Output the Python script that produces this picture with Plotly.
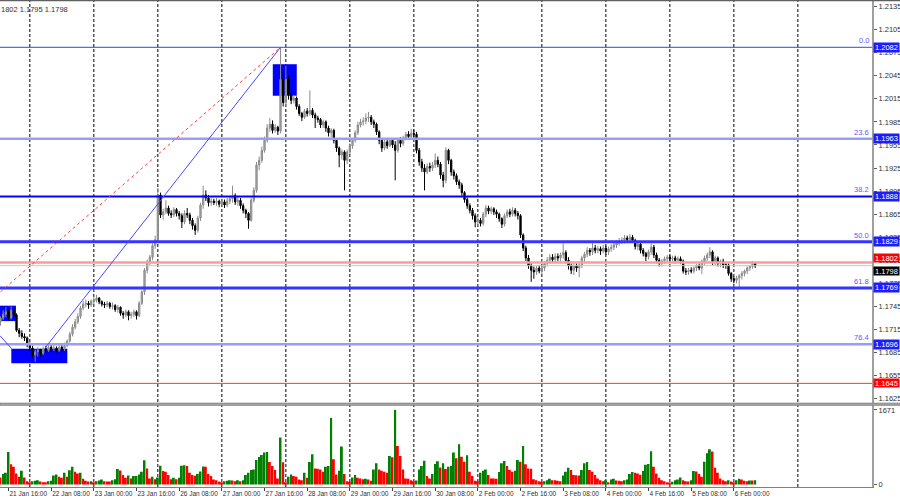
import numpy as np
import pandas as pd
import plotly.graph_objects as go

# EURUSD H1, 21 Jan 13:00 .. 6 Feb 08:00 (weekends skipped)
hours = pd.date_range("2026-01-21 13:00", "2026-02-06 08:00", freq="h")
times = hours[hours.dayofweek < 5]

first_open = 1.1725

closes = [
    1.1730, 1.1735, 1.1738, 1.1730, 1.1740, 1.1734, 1.1714, 1.1710, 1.1706, 1.1704,
    1.1695, 1.1691, 1.1682, 1.1686, 1.1688, 1.1684, 1.1690, 1.1688, 1.1692, 1.1690,
    1.1691, 1.1688, 1.1692, 1.1690, 1.1694, 1.1700, 1.1709, 1.1718, 1.1725, 1.1732,
    1.1743, 1.1748, 1.1749, 1.1747, 1.1752, 1.1753, 1.1756, 1.1751, 1.1748, 1.1747,
    1.1749, 1.1745, 1.1746, 1.1741, 1.1744, 1.1736, 1.1734, 1.1738, 1.1733, 1.1735,
    1.1738, 1.1733, 1.1749, 1.1764, 1.1792, 1.1803, 1.1809, 1.1824, 1.1832, 1.1890,
    1.1864, 1.1868, 1.1873, 1.1866, 1.1864, 1.1871, 1.1866, 1.1863, 1.1855, 1.1866,
    1.1864, 1.1857, 1.1850, 1.1844, 1.1860, 1.1877, 1.1890, 1.1886, 1.1880, 1.1882,
    1.1880, 1.1882, 1.1878, 1.1881, 1.1877, 1.1882, 1.1885, 1.1889, 1.1881, 1.1883,
    1.1876, 1.1870, 1.1866, 1.1857, 1.1883, 1.1896, 1.1929, 1.1935, 1.1948, 1.1961,
    1.1977, 1.1982, 1.1974, 1.1978, 1.1973, 1.2040, 1.2010, 1.2040, 1.2020, 1.2013,
    1.2016, 1.2005, 1.1996, 1.1991, 1.1999, 1.1996, 1.2000, 1.1994, 1.1990, 1.1988,
    1.1981, 1.1985, 1.1977, 1.1971, 1.1974, 1.1961, 1.1951, 1.1942, 1.1946, 1.1935,
    1.1946, 1.1954, 1.1961, 1.1971, 1.1981, 1.1985, 1.1986, 1.1990, 1.1991, 1.1985,
    1.1982, 1.1972, 1.1961, 1.1951, 1.1959, 1.1954, 1.1961, 1.1955, 1.1948, 1.1961,
    1.1957, 1.1964, 1.1969, 1.1966, 1.1970, 1.1969, 1.1948, 1.1933, 1.1925, 1.1920,
    1.1927, 1.1925, 1.1929, 1.1935, 1.1930, 1.1916, 1.1909, 1.1948, 1.1935, 1.1920,
    1.1915, 1.1907, 1.1903, 1.1893, 1.1884, 1.1876, 1.1870, 1.1863, 1.1855, 1.1857,
    1.1853, 1.1865, 1.1873, 1.1869, 1.1872, 1.1868, 1.1865, 1.1859, 1.1852, 1.1863,
    1.1868, 1.1865, 1.1870, 1.1866, 1.1863, 1.1838, 1.1821, 1.1808, 1.1798, 1.1792,
    1.1790, 1.1795, 1.1791, 1.1795, 1.1801, 1.1805, 1.1809, 1.1806, 1.1810, 1.1808,
    1.1812, 1.1815, 1.1805, 1.1798, 1.1792, 1.1798, 1.1795, 1.1799, 1.1808, 1.1813,
    1.1818, 1.1816, 1.1821, 1.1818, 1.1820, 1.1817, 1.1821, 1.1816, 1.1820, 1.1822,
    1.1825, 1.1827, 1.1830, 1.1831, 1.1834, 1.1832, 1.1835, 1.1831, 1.1823, 1.1826,
    1.1818, 1.1814, 1.1810, 1.1816, 1.1822, 1.1812, 1.1805, 1.1801, 1.1804, 1.1807,
    1.1809, 1.1807, 1.1808, 1.1805, 1.1807, 1.1804, 1.1791, 1.1790, 1.1792, 1.1791,
    1.1795, 1.1798, 1.1795, 1.1803, 1.1808, 1.1812, 1.1816, 1.1803, 1.1808, 1.1801,
    1.1804, 1.1799, 1.1799, 1.1788, 1.1781, 1.1779, 1.1782, 1.1785, 1.1788, 1.1791,
    1.1795, 1.1797, 1.1801, 1.1798,
]

highs = [
    1.1732, 1.1740, 1.1744, 1.1741, 1.1745, 1.1743, 1.1736, 1.1717, 1.1714, 1.1710,
    1.1706, 1.1698, 1.1694, 1.1689, 1.1692, 1.1690, 1.1693, 1.1694, 1.1697, 1.1695,
    1.1696, 1.1693, 1.1695, 1.1697, 1.1698, 1.1702, 1.1712, 1.1722, 1.1729, 1.1736,
    1.1746, 1.1752, 1.1754, 1.1752, 1.1754, 1.1757, 1.1760, 1.1757, 1.1753, 1.1751,
    1.1752, 1.1751, 1.1750, 1.1748, 1.1747, 1.1745, 1.1739, 1.1741, 1.1740, 1.1738,
    1.1741, 1.1740, 1.1752, 1.1766, 1.1795, 1.1806, 1.1812, 1.1827, 1.1837, 1.1899,
    1.1893, 1.1872, 1.1883, 1.1876, 1.1870, 1.1874, 1.1873, 1.1869, 1.1866, 1.1870,
    1.1873, 1.1867, 1.1860, 1.1853, 1.1863, 1.1880, 1.1902, 1.1896, 1.1890, 1.1886,
    1.1885, 1.1886, 1.1884, 1.1885, 1.1884, 1.1886, 1.1888, 1.1902, 1.1892, 1.1887,
    1.1886, 1.1879, 1.1872, 1.1868, 1.1886, 1.1900, 1.1933, 1.1940, 1.1953, 1.1966,
    1.1982, 1.1990, 1.1987, 1.1982, 1.1980, 1.2082, 1.2050, 1.2058, 1.2045, 1.2024,
    1.2020, 1.2018, 1.2008, 1.1998, 1.2002, 1.2003, 1.2026, 1.2003, 1.1997, 1.1993,
    1.1990, 1.1988, 1.1987, 1.1980, 1.1977, 1.1976, 1.1963, 1.1953, 1.1949, 1.1948,
    1.1949, 1.1957, 1.1964, 1.1974, 1.1985, 1.1989, 1.1991, 1.1996, 1.1998, 1.1994,
    1.1988, 1.1984, 1.1974, 1.1963, 1.1962, 1.1962, 1.1964, 1.1964, 1.1960, 1.1964,
    1.1965, 1.1967, 1.1972, 1.1973, 1.1976, 1.1975, 1.1972, 1.1951, 1.1937, 1.1930,
    1.1931, 1.1932, 1.1933, 1.1944, 1.1940, 1.1933, 1.1920, 1.1952, 1.1950, 1.1937,
    1.1923, 1.1918, 1.1910, 1.1906, 1.1895, 1.1887, 1.1879, 1.1873, 1.1866, 1.1861,
    1.1860, 1.1868, 1.1877, 1.1876, 1.1875, 1.1874, 1.1871, 1.1867, 1.1861, 1.1866,
    1.1871, 1.1872, 1.1874, 1.1873, 1.1869, 1.1865, 1.1840, 1.1824, 1.1812, 1.1802,
    1.1797, 1.1798, 1.1799, 1.1799, 1.1804, 1.1809, 1.1813, 1.1813, 1.1814, 1.1814,
    1.1815, 1.1827, 1.1818, 1.1809, 1.1801, 1.1801, 1.1801, 1.1803, 1.1811, 1.1816,
    1.1822, 1.1821, 1.1829, 1.1825, 1.1824, 1.1823, 1.1825, 1.1824, 1.1823, 1.1826,
    1.1828, 1.1831, 1.1834, 1.1835, 1.1838, 1.1837, 1.1839, 1.1838, 1.1833, 1.1829,
    1.1828, 1.1821, 1.1816, 1.1819, 1.1827, 1.1825, 1.1815, 1.1808, 1.1807, 1.1810,
    1.1812, 1.1812, 1.1811, 1.1811, 1.1810, 1.1810, 1.1806, 1.1795, 1.1795, 1.1796,
    1.1797, 1.1800, 1.1801, 1.1806, 1.1811, 1.1815, 1.1822, 1.1818, 1.1811, 1.1810,
    1.1806, 1.1807, 1.1803, 1.1801, 1.1790, 1.1784, 1.1785, 1.1787, 1.1791, 1.1793,
    1.1797, 1.1799, 1.1804, 1.1802,
]

lows = [
    1.1720, 1.1727, 1.1731, 1.1727, 1.1728, 1.1731, 1.1712, 1.1705, 1.1703, 1.1700,
    1.1692, 1.1687, 1.1678, 1.1673, 1.1680, 1.1680, 1.1682, 1.1685, 1.1686, 1.1686,
    1.1687, 1.1685, 1.1686, 1.1686, 1.1687, 1.1692, 1.1698, 1.1706, 1.1715, 1.1722,
    1.1729, 1.1740, 1.1744, 1.1742, 1.1744, 1.1748, 1.1750, 1.1748, 1.1745, 1.1743,
    1.1744, 1.1742, 1.1741, 1.1738, 1.1737, 1.1733, 1.1729, 1.1731, 1.1727, 1.1729,
    1.1731, 1.1728, 1.1731, 1.1747, 1.1760, 1.1788, 1.1798, 1.1805, 1.1820, 1.1830,
    1.1860, 1.1858, 1.1865, 1.1863, 1.1860, 1.1861, 1.1862, 1.1858, 1.1847, 1.1852,
    1.1860, 1.1852, 1.1845, 1.1838, 1.1841, 1.1856, 1.1872, 1.1882, 1.1875, 1.1876,
    1.1877, 1.1876, 1.1874, 1.1875, 1.1873, 1.1874, 1.1878, 1.1880, 1.1877, 1.1876,
    1.1872, 1.1866, 1.1860, 1.1846, 1.1855, 1.1880, 1.1893, 1.1922, 1.1932, 1.1945,
    1.1958, 1.1972, 1.1970, 1.1971, 1.1968, 1.1970, 1.2005, 1.2006, 1.2014, 1.2008,
    1.2009, 1.2001, 1.1993, 1.1986, 1.1989, 1.1992, 1.1993, 1.1990, 1.1977, 1.1984,
    1.1977, 1.1977, 1.1972, 1.1966, 1.1965, 1.1957, 1.1946, 1.1926, 1.1936, 1.1896,
    1.1930, 1.1943, 1.1950, 1.1958, 1.1968, 1.1978, 1.1980, 1.1982, 1.1985, 1.1981,
    1.1977, 1.1968, 1.1956, 1.1946, 1.1948, 1.1950, 1.1952, 1.1951, 1.1909, 1.1945,
    1.1952, 1.1954, 1.1961, 1.1962, 1.1963, 1.1964, 1.1944, 1.1928, 1.1920, 1.1896,
    1.1917, 1.1920, 1.1921, 1.1925, 1.1926, 1.1911, 1.1900, 1.1905, 1.1930, 1.1915,
    1.1910, 1.1903, 1.1898, 1.1889, 1.1880, 1.1872, 1.1866, 1.1858, 1.1848, 1.1850,
    1.1849, 1.1850, 1.1861, 1.1865, 1.1865, 1.1864, 1.1860, 1.1855, 1.1847, 1.1849,
    1.1860, 1.1861, 1.1862, 1.1862, 1.1858, 1.1834, 1.1817, 1.1804, 1.1794, 1.1777,
    1.1781, 1.1786, 1.1788, 1.1787, 1.1791, 1.1797, 1.1801, 1.1802, 1.1802, 1.1804,
    1.1803, 1.1807, 1.1801, 1.1793, 1.1787, 1.1786, 1.1790, 1.1783, 1.1795, 1.1803,
    1.1809, 1.1811, 1.1812, 1.1814, 1.1814, 1.1812, 1.1814, 1.1812, 1.1812, 1.1816,
    1.1818, 1.1821, 1.1824, 1.1826, 1.1827, 1.1828, 1.1829, 1.1828, 1.1819, 1.1818,
    1.1814, 1.1810, 1.1804, 1.1806, 1.1812, 1.1808, 1.1801, 1.1797, 1.1797, 1.1800,
    1.1802, 1.1803, 1.1803, 1.1801, 1.1802, 1.1800, 1.1788, 1.1786, 1.1786, 1.1788,
    1.1788, 1.1791, 1.1792, 1.1787, 1.1799, 1.1804, 1.1808, 1.1799, 1.1798, 1.1797,
    1.1796, 1.1795, 1.1794, 1.1785, 1.1777, 1.1775, 1.1775, 1.1770, 1.1780, 1.1784,
    1.1787, 1.1791, 1.1794, 1.1795,
]

volumes = [
    158, 233, 263, 730, 452, 400, 248, 173, 309, 158,
    75, 53, 75, 83, 98, 68, 53, 50, 75, 83,
    203, 226, 173, 151, 263, 173, 320, 400, 286, 248,
    263, 128, 83, 68, 75, 53, 75, 90, 113, 75,
    70, 65, 98, 120, 346, 316, 211, 151, 203, 136,
    188, 190, 226, 286, 542, 361, 136, 173, 120, 158,
    422, 301, 286, 211, 120, 151, 120, 151, 422, 430,
    414, 263, 211, 195, 233, 294, 405, 399, 233, 188,
    113, 98, 68, 53, 75, 83, 98, 90, 75, 98,
    75, 98, 211, 263, 324, 339, 550, 617, 663, 716,
    730, 505, 414, 324, 136, 1054, 497, 53, 173, 226,
    188, 173, 113, 98, 263, 151, 505, 678, 361, 355,
    339, 286, 399, 414, 1491, 565, 226, 309, 851, 233,
    75, 60, 158, 211, 151, 136, 120, 128, 115, 83,
    339, 474, 339, 309, 286, 263, 640, 610, 1671, 866,
    640, 339, 136, 130, 98, 75, 90, 339, 414, 535,
    188, 136, 233, 459, 520, 384, 474, 346, 400, 414,
    716, 587, 904, 625, 512, 655, 286, 188, 83, 75,
    263, 309, 339, 211, 136, 135, 130, 279, 474, 527,
    414, 324, 286, 309, 550, 512, 866, 452, 361, 355,
    120, 98, 75, 60, 75, 98, 128, 98, 95, 83,
    75, 203, 286, 377, 324, 211, 205, 200, 324, 474,
    505, 324, 286, 211, 136, 98, 75, 98, 53, 113,
    128, 90, 83, 75, 98, 113, 233, 279, 263, 248,
    218, 301, 444, 459, 745, 399, 248, 151, 98, 75,
    53, 45, 60, 98, 113, 158, 98, 75, 70, 98,
    301, 294, 233, 173, 512, 700, 791, 738, 377, 263,
    136, 98, 75, 98, 68, 53, 98, 128, 113, 83,
    75, 90, 88, 98,
]

price_ticks = [1.2135, 1.2105, 1.2075, 1.2045, 1.2015, 1.1985, 1.1955, 1.1925, 1.1895,
               1.1865, 1.1835, 1.1805, 1.1775, 1.1745, 1.1715, 1.1685, 1.1655, 1.1625]
volume_ticks = [0, 1671]

fib_pct = ["0.0", "23.6", "38.2", "50.0", "61.8", "76.4"]
fib_price = [1.2082, 1.1963, 1.1888, 1.1829, 1.1769, 1.1696]
other_levels = [1.1802, 1.1798, 1.1645]

# drawn objects: (bar0, price0, bar1, price1)
boxes = [(102.1, 1.2019, 111.1, 1.2060), (-0.5, 1.1726, 5.8, 1.1746), (4.05, 1.1671, 25.05, 1.1690)]
blue_lines = [(16.7, 1.1691, 105.0, 1.2082), (-0.2, 1.1707, 4.2, 1.1690)]
red_dash = (0.0, 1.1764, 105.0, 1.2082)

# styles
fib_style = {
    "0.0": ("#3c3cff", 1), "23.6": ("#9a9aff", 2.5), "38.2": ("#0000ff", 2),
    "50.0": ("#3535ff", 3), "61.8": ("#3535ff", 3), "76.4": ("#9a9aff", 2.5),
}
other_style = [("#ff9a9a", 2.5, "#ff0000", "bottom"), ("#c8c8c8", 1, "#000000", "top"),
               ("#ff3030", 1, "#ff0000", "middle")]
FONT = "Liberation Sans"

x = np.arange(len(times))
opens = [first_open] + closes[:-1]
vol_colors = ["#ff0000"] + ["#008000" if volumes[i] > volumes[i - 1] else "#ff0000"
                            for i in range(1, len(volumes))]

label_idx = list(range(3, len(times), 16))
label_txt = [times[i].strftime("%-d %b %H:%M") for i in label_idx]
# day separators, plus the next Monday after the last bar
grid_idx = [i for i, t in enumerate(times) if t.hour == 0] + [299]

fig = go.Figure()

fig.add_trace(go.Candlestick(
    x=x, open=opens, high=highs, low=lows, close=closes,
    increasing=dict(line=dict(color="#8c8c8c", width=1), fillcolor="#a8a8a8"),
    decreasing=dict(line=dict(color="#000000", width=1), fillcolor="#000000"),
    whiskerwidth=0, hoverinfo="skip", showlegend=False,
    xaxis="x", yaxis="y"
))

fig.add_trace(go.Bar(
    x=x, y=volumes, marker_color=vol_colors, marker_line_width=0,
    width=0.72, hoverinfo="skip", showlegend=False,
    xaxis="x2", yaxis="y2"
))

shapes = []
for g in grid_idx:
    shapes.append(dict(type="line", xref="x", yref="paper", x0=g, x1=g, y0=0, y1=1,
                       line=dict(color="#000000", width=1, dash="3px,2px"), layer="below"))

for b in boxes:
    shapes.append(dict(type="rect", xref="x", yref="y", x0=b[0], x1=b[2], y0=b[1], y1=b[3],
                       fillcolor="#0000ff", line_width=0, layer="between"))

for pct, p in zip(fib_pct, fib_price):
    c, w = fib_style[pct]
    shapes.append(dict(type="line", xref="paper", yref="y", x0=0, x1=1, y0=p, y1=p,
                       line=dict(color=c, width=w)))

for p, (c, w, _, _) in zip(other_levels, other_style):
    shapes.append(dict(type="line", xref="paper", yref="y", x0=0, x1=1, y0=p, y1=p,
                       line=dict(color=c, width=w)))

for l in blue_lines:
    shapes.append(dict(type="line", xref="x", yref="y", x0=l[0], y0=l[1], x1=l[2], y1=l[3],
                       line=dict(color="#4848ff", width=1)))
shapes.append(dict(type="line", xref="x", yref="y", x0=red_dash[0], y0=red_dash[1],
                   x1=red_dash[2], y1=red_dash[3],
                   line=dict(color="#ff3c3c", width=1, dash="3px,3px")))

# frame: top border, panel separator
shapes.append(dict(type="line", xref="paper", yref="paper", x0=0, x1=1.04, y0=0.999, y1=0.999,
                   line=dict(color="#606060", width=1.5)))
shapes.append(dict(type="rect", xref="paper", yref="paper", x0=0, x1=1.04, y0=0.1674, y1=0.1725,
                   fillcolor="#a0a0a0", line=dict(color="#707070", width=0.5), layer="above"))

annotations = []
for pct, p in zip(fib_pct, fib_price):
    annotations.append(dict(xref="paper", yref="y", x=1, y=p, xanchor="right", yanchor="bottom",
                            xshift=-1, text=pct, showarrow=False,
                            font=dict(family=FONT, size=7.5, color="#5a5aff")))
    annotations.append(dict(xref="paper", yref="y", x=1, y=p, xanchor="left", yanchor="middle",
                            xshift=1, text=f"{p:.4f}", showarrow=False, bgcolor="#1c1cff",
                            width=25, height=9, borderpad=0,
                            font=dict(family=FONT, size=7.5, color="#ffffff")))
for p, (_, _, bc, ya) in zip(other_levels, other_style):
    annotations.append(dict(xref="paper", yref="y", x=1, y=p, xanchor="left", yanchor=ya,
                            xshift=1, text=f"{p:.4f}", showarrow=False, bgcolor=bc,
                            width=25, height=8, borderpad=0,
                            font=dict(family=FONT, size=7.5, color="#ffffff")))
annotations.append(dict(xref="paper", yref="paper", x=0, y=1, xanchor="left", yanchor="top",
                        xshift=-1, yshift=-3, text="1802 1.1795 1.1798", showarrow=False,
                        font=dict(family=FONT, size=7.5, color="#303030")))

fig.update_layout(
    width=900, height=500,
    margin=dict(l=0, r=28, t=0, b=13, autoexpand=False),
    paper_bgcolor="#ffffff", plot_bgcolor="#ffffff",
    font=dict(family=FONT, size=8, color="#303030"),
    showlegend=False, hovermode=False,
    shapes=shapes, annotations=annotations,
    xaxis=dict(domain=[0, 1], range=[-0.19, 326.8], anchor="y",
               showticklabels=False, showgrid=False, zeroline=False, automargin=False,
               rangeslider=dict(visible=False)),
    xaxis2=dict(domain=[0, 1], matches="x", anchor="y2", automargin=False,
                tickvals=label_idx, ticktext=label_txt, tickangle=0,
                ticks="outside", ticklen=3, tickcolor="#404040",
                ticklabelposition="outside right",
                tickfont=dict(family=FONT, size=6.5, color="#303030"),
                showgrid=False, zeroline=False, showline=True, linecolor="#808080", linewidth=1),
    yaxis=dict(domain=[0.1725, 1], range=[1.161945, 1.214351], side="right", anchor="x",
               automargin=False,
               tickvals=price_ticks, ticktext=[f"{t:.4f}" for t in price_ticks],
               ticks="outside", ticklen=3, tickcolor="#606060",
               tickfont=dict(family=FONT, size=7.5, color="#303030"),
               showgrid=False, zeroline=False, showline=True, linecolor="#a0a0a0", linewidth=2),
    yaxis2=dict(domain=[0, 0.1674], range=[-56, 1772], side="right", anchor="x2",
                automargin=False,
                tickvals=volume_ticks, ticktext=[str(v) for v in volume_ticks],
                ticks="outside", ticklen=3, tickcolor="#606060",
                tickfont=dict(family=FONT, size=7.5, color="#303030"),
                showgrid=False, zeroline=False, showline=True, linecolor="#a0a0a0", linewidth=2),
)

# the page's default body margin would shift the 900x500 figure
fig.write_html("out.html", config={"displayModeBar": False},
               post_script="document.body.style.margin='0';")
